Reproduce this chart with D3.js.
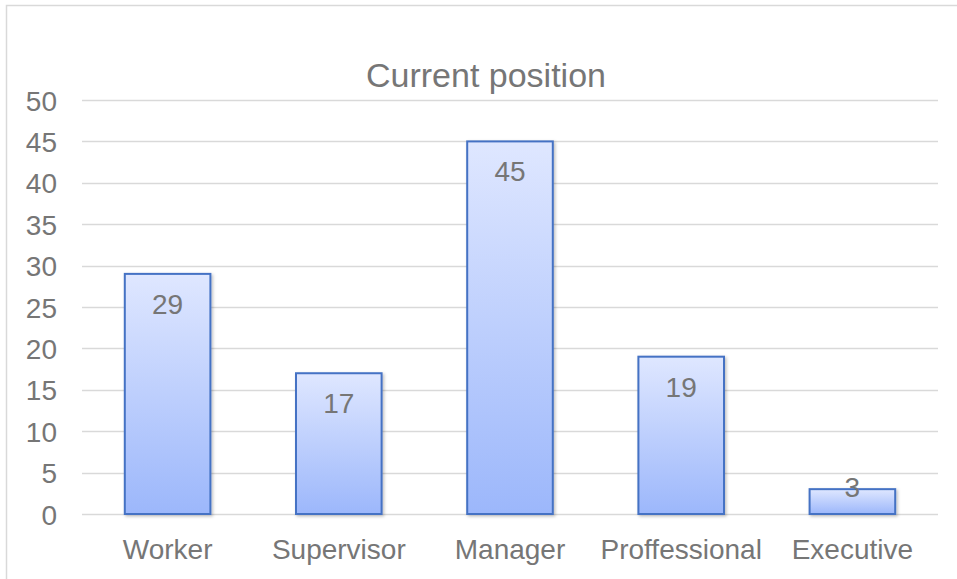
<!DOCTYPE html>
<html>
<head>
<meta charset="utf-8">
<script src="https://cdn.jsdelivr.net/npm/d3@7"></script>
<style>
  body { margin: 0; background: #fff; }
  svg { display: block; font-family: "Liberation Sans", Arial, sans-serif; }
</style>
</head>
<body>
<div id="chart"></div>
<script>
const categories = ["Worker", "Supervisor", "Manager", "Proffessional", "Executive"];
const values = [29, 17, 45, 19, 3];
const yTicks = [0, 5, 10, 15, 20, 25, 30, 35, 40, 45, 50];
const title = "Current position";

const width = 957, height = 579;
const margin = { top: 100, right: 19, bottom: 65, left: 82 };
const font = "'Liberation Sans', Arial, sans-serif";
const textColor = "#767676";

const svg = d3.select("#chart").append("svg")
    .attr("width", width)
    .attr("height", height);

const defs = svg.append("defs");
const grad = defs.append("linearGradient")
    .attr("id", "barGrad")
    .attr("x1", 0).attr("y1", 0).attr("x2", 0).attr("y2", 1);
grad.append("stop").attr("offset", "0%").attr("stop-color", "#dfe7ff");
grad.append("stop").attr("offset", "100%").attr("stop-color", "#9cb7fb");

const shadow = defs.append("filter").attr("id", "shadow")
    .attr("x", "-20%").attr("y", "-20%").attr("width", "150%").attr("height", "150%");
shadow.append("feDropShadow")
    .attr("dx", 1.5).attr("dy", 1.5).attr("stdDeviation", 1.5)
    .attr("flood-color", "#000").attr("flood-opacity", 0.25);

// chart area border
svg.append("rect")
    .attr("x", 6.5).attr("y", 5.5)
    .attr("width", width + 10).attr("height", height + 10)
    .attr("fill", "none")
    .attr("stroke", "#d9d9d9")
    .attr("stroke-width", 1.5);

const x = d3.scaleBand()
    .domain(categories)
    .range([margin.left, width - margin.right])
    .paddingInner(0.5)
    .paddingOuter(0.25);

const y = d3.scaleLinear()
    .domain([0, 50])
    .range([height - margin.bottom, margin.top]);

// gridlines
svg.append("g")
    .selectAll("line")
    .data(yTicks)
    .join("line")
    .attr("x1", margin.left)
    .attr("x2", width - margin.right)
    .attr("y1", d => Math.round(y(d)) + 0.5)
    .attr("y2", d => Math.round(y(d)) + 0.5)
    .attr("stroke", "#d9d9d9")
    .attr("stroke-width", 1.3);

// y axis labels
svg.append("g")
    .attr("transform", `translate(${margin.left - 25},0)`)
    .call(d3.axisLeft(y).tickValues(yTicks).tickSize(0).tickPadding(0))
    .call(g => g.select(".domain").remove())
    .call(g => g.selectAll("text")
        .attr("fill", textColor)
        .attr("font-size", 28)
        .attr("dy", "0.36em")
        .attr("font-family", font));

// bars
svg.append("g")
    .selectAll("rect")
    .data(values)
    .join("rect")
    .attr("x", (d, i) => x(categories[i]))
    .attr("y", d => y(d))
    .attr("width", x.bandwidth())
    .attr("height", d => y(0) - y(d))
    .attr("fill", "url(#barGrad)")
    .attr("stroke", "#4472c4")
    .attr("stroke-width", 2)
    .attr("filter", "url(#shadow)");

// value labels
svg.append("g")
    .selectAll("text")
    .data(values)
    .join("text")
    .attr("x", (d, i) => x(categories[i]) + x.bandwidth() / 2)
    .attr("y", d => Math.min(y(d) + 40, y(0) - 17))
    .attr("text-anchor", "middle")
    .attr("fill", textColor)
    .attr("font-size", 28)
    .text(d => d);

// x axis labels
svg.append("g")
    .attr("transform", `translate(0,${height - margin.bottom})`)
    .call(d3.axisBottom(x).tickSize(0).tickPadding(25))
    .call(g => g.select(".domain").remove())
    .call(g => g.selectAll("text")
        .attr("fill", textColor)
        .attr("font-size", 28)
        .attr("font-family", font));

// title
svg.append("text")
    .attr("x", (margin.left + width - margin.right) / 2 - 24)
    .attr("y", 87)
    .attr("text-anchor", "middle")
    .attr("fill", textColor)
    .attr("font-size", 34)
    .text(title);
</script>
</body>
</html>
